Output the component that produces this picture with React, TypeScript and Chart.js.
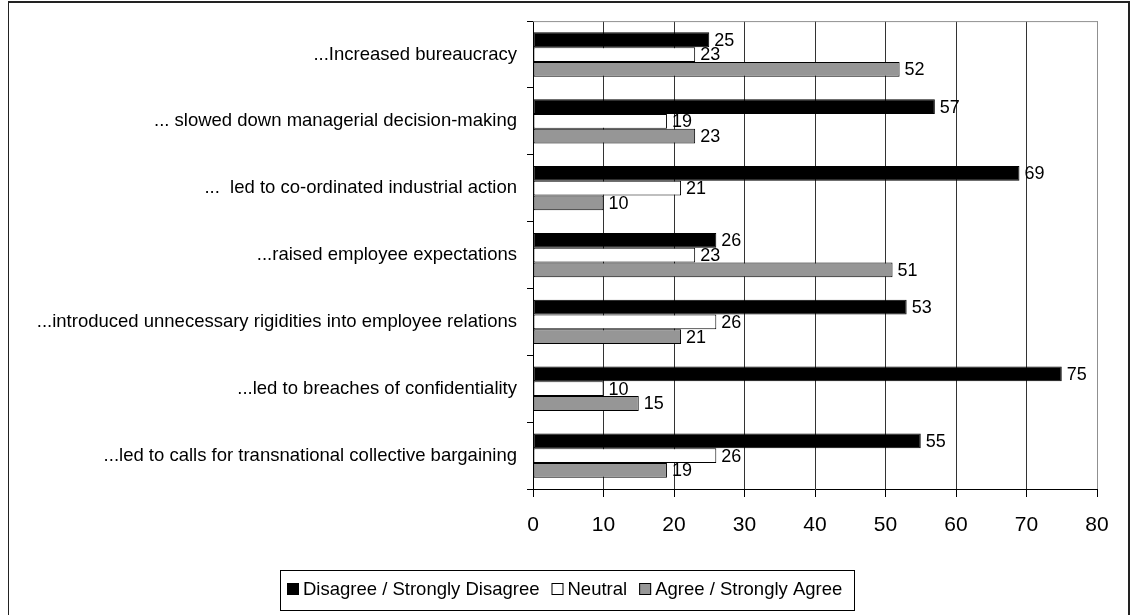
import React, { useEffect, useRef } from 'react';
import { Chart, registerables } from 'chart.js';

Chart.register(...registerables);

const categories = [
  '...Increased bureaucracy',
  '... slowed down managerial decision-making',
  '...  led to co-ordinated industrial action',
  '...raised employee expectations',
  '...introduced unnecessary rigidities into employee relations',
  '...led to breaches of confidentiality',
  '...led to calls for transnational collective bargaining',
];

const seriesLabels = ['Disagree / Strongly Disagree', 'Neutral', 'Agree / Strongly Agree'];
const disagreeValues = [25, 57, 69, 26, 53, 75, 55];
const neutralValues = [23, 19, 21, 23, 26, 10, 26];
const agreeValues = [52, 23, 10, 51, 21, 15, 19];

const xMin = 0;
const xMax = 80;
const xStep = 10;

const W = 1131;
const H = 615;
const FONT = '"Liberation Sans", Arial, sans-serif';

const valueLabelPlugin = {
  id: 'valueLabels',
  afterDatasetsDraw(chart: any) {
    const ctx = chart.ctx;
    ctx.save();
    ctx.font = `18px ${FONT}`;
    ctx.fillStyle = '#000';
    ctx.textAlign = 'left';
    ctx.textBaseline = 'middle';
    chart.data.datasets.forEach((ds: any, di: number) => {
      const meta = chart.getDatasetMeta(di);
      meta.data.forEach((bar: any, i: number) => {
        ctx.fillText(String(ds.data[i]), bar.x + 5, bar.y + 1);
      });
    });
    ctx.restore();
  },
};

const plotFramePlugin = {
  id: 'plotFrame',
  beforeDatasetsDraw(chart: any) {
    const { ctx, chartArea } = chart;
    ctx.save();
    ctx.strokeStyle = '#909090';
    ctx.lineWidth = 1;
    ctx.beginPath();
    ctx.moveTo(chartArea.left, chartArea.top + 0.5);
    ctx.lineTo(chartArea.right + 0.5, chartArea.top + 0.5);
    ctx.lineTo(chartArea.right + 0.5, chartArea.bottom);
    ctx.stroke();
    ctx.restore();
  },
};

const boxLegendPlugin = {
  id: 'boxLegend',
  afterDraw(chart: any) {
    const ctx = chart.ctx;
    ctx.save();
    ctx.font = `18.5px ${FONT}`;
    const marker = 12;
    const gapMarkerText = 4;
    const gapItem = 12;
    const padL = 7;
    const padR = 12;
    const items = chart.data.datasets.map((ds: any) => ({
      label: ds.label,
      fill: ds.backgroundColor,
      w: ctx.measureText(ds.label).width,
    }));
    let total = padL + padR;
    items.forEach((it: any, i: number) => {
      total += marker + gapMarkerText + it.w + (i > 0 ? gapItem : 0);
    });
    const cx = 567.5;
    const top = 570;
    const h = 40;
    const left = Math.round(cx - total / 2);
    ctx.strokeStyle = '#000';
    ctx.lineWidth = 1;
    ctx.strokeRect(left + 0.5, top + 0.5, Math.round(total), h);
    let x = left + padL;
    const cy = top + h / 2 - 1;
    items.forEach((it: any, i: number) => {
      if (i > 0) x += gapItem;
      ctx.fillStyle = it.fill;
      ctx.fillRect(x, cy - marker / 2, marker, marker);
      ctx.strokeStyle = '#000';
      ctx.strokeRect(x + 0.5, cy - marker / 2 + 0.5, marker - 1, marker - 1);
      x += marker + gapMarkerText;
      ctx.fillStyle = '#000';
      ctx.textAlign = 'left';
      ctx.textBaseline = 'middle';
      ctx.fillText(it.label, x, cy + 1);
      x += it.w;
    });
    ctx.restore();
  },
};

export default function App() {
  const canvasRef = useRef<HTMLCanvasElement | null>(null);

  useEffect(() => {
    if (!canvasRef.current) return;
    const chart = new Chart(canvasRef.current, {
      type: 'bar',
      data: {
        labels: categories,
        datasets: [
          {
            label: seriesLabels[0],
            data: disagreeValues,
            backgroundColor: '#000000',
            borderColor: '#000000',
            borderWidth: 1,
            borderSkipped: false,
          },
          {
            label: seriesLabels[1],
            data: neutralValues,
            backgroundColor: '#ffffff',
            borderColor: '#000000',
            borderWidth: 1,
            borderSkipped: false,
          },
          {
            label: seriesLabels[2],
            data: agreeValues,
            backgroundColor: '#969696',
            borderColor: '#000000',
            borderWidth: 1,
            borderSkipped: false,
          },
        ],
      },
      options: {
        indexAxis: 'y',
        responsive: false,
        animation: false,
        devicePixelRatio: 1,
        layout: { padding: { left: 0, top: 21, right: W - 1097, bottom: 0 } },
        datasets: {
          bar: { categoryPercentage: 0.663, barPercentage: 1.0 },
        },
        plugins: {
          legend: { display: false },
          tooltip: { enabled: false },
          title: { display: false },
        },
        scales: {
          x: {
            type: 'linear',
            min: xMin,
            max: xMax,
            afterFit: (scale: any) => {
              scale.height = H - 489;
            },
            ticks: {
              stepSize: xStep,
              color: '#000',
              padding: 16,
              font: { family: FONT, size: 21 },
            },
            grid: {
              color: (c: any) => (c.tick && c.tick.value === xMax ? '#909090' : '#333333'),
              lineWidth: 1,
              tickLength: 8,
              tickColor: '#000',
            },
            border: { display: true, color: '#000', width: 1 },
          },
          y: {
            type: 'category',
            afterFit: (scale: any) => {
              scale.width = 533;
            },
            ticks: {
              color: '#000',
              padding: 10,
              autoSkip: false,
              font: { family: FONT, size: 18.5 },
            },
            grid: {
              display: true,
              drawOnChartArea: false,
              offset: true,
              tickLength: 6,
              color: '#000',
              tickColor: '#000',
            },
            border: { display: true, color: '#000', width: 1 },
          },
        },
      },
      plugins: [plotFramePlugin, valueLabelPlugin, boxLegendPlugin],
    } as any);
    return () => chart.destroy();
  }, []);

  return (
    <div style={{ position: 'absolute', left: 0, top: 0, width: W, height: H, overflow: 'hidden', background: '#fff' }}>
      <div
        style={{
          position: 'absolute',
          left: 8,
          top: 1,
          width: 1122,
          height: 700,
          boxSizing: 'border-box',
          borderTop: '2px solid #222',
          borderLeft: '1px solid #222',
          borderRight: '2px solid #222',
        }}
      />
      <canvas ref={canvasRef} width={W} height={H} style={{ position: 'absolute', left: 0, top: 0 }} />
    </div>
  );
}
